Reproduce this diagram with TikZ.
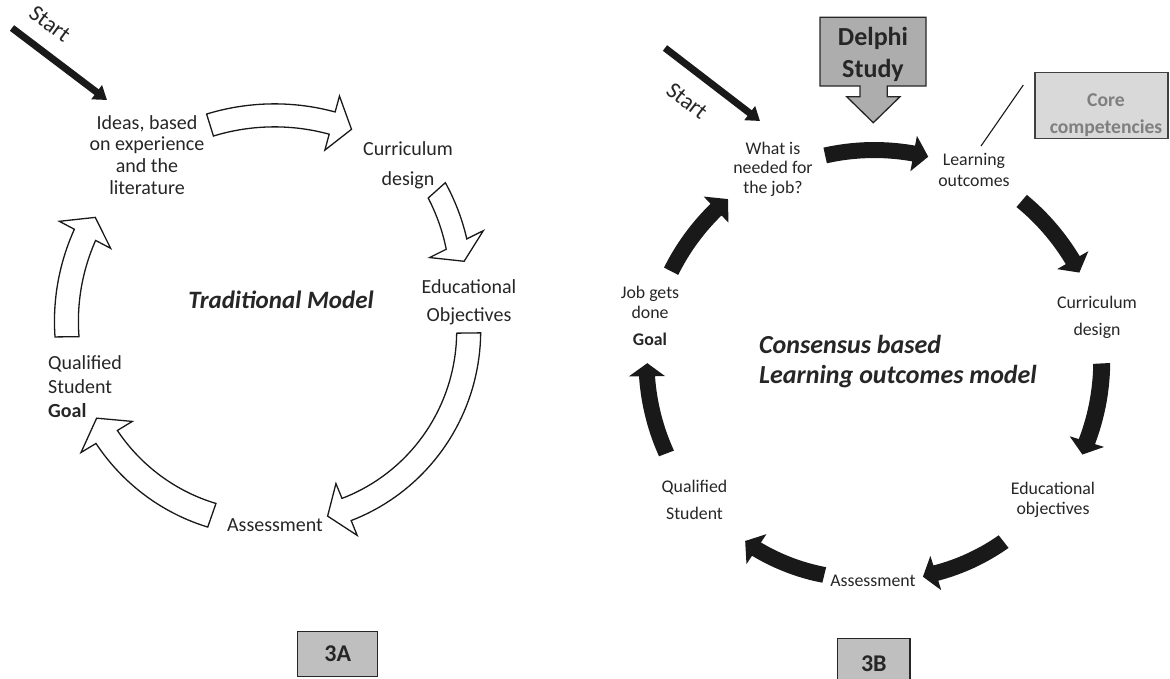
\documentclass[tikz,border=0pt]{standalone}
\usepackage{fontspec}
\setmainfont{Carlito}
\usetikzlibrary{arrows.meta}
% #1 cx, #2 cy (pixel), #3 start angle, #4 start radius, #5 head-base angle, #6 end radius, #7 tip angle, #8 half body width, #9 half head width
\newcommand{\blockarc}[9]{%
  \draw[arrshape]
    plot[domain=0:1,samples=40,variable=\t]
      ({#1+(#4+((#6)-(#4))*\t+#8)*cos(#3+((#5)-(#3))*\t)},{#2-(#4+((#6)-(#4))*\t+#8)*sin(#3+((#5)-(#3))*\t)})
    -- ({#1+(#6+#9)*cos(#5)},{#2-(#6+#9)*sin(#5)})
    -- ({#1+(#6)*cos(#7)},{#2-(#6)*sin(#7)})
    -- ({#1+(#6-#9)*cos(#5)},{#2-(#6-#9)*sin(#5)})
    -- plot[domain=0:1,samples=40,variable=\t]
      ({#1+(#6+((#4)-(#6))*\t-#8)*cos(#5+((#3)-(#5))*\t)},{#2-(#6+((#4)-(#6))*\t-#8)*sin(#5+((#3)-(#5))*\t)})
    -- cycle;}
\definecolor{txtcol}{HTML}{262626}
\definecolor{boxgray}{HTML}{BFBFBF}
\definecolor{delphigray}{HTML}{ADADAD}
\definecolor{coregray}{HTML}{D9D9D9}
\definecolor{coretext}{HTML}{7F7F7F}
\begin{document}
\begin{tikzpicture}[x=1pt,y=-1pt,
  txt/.style={text=txtcol, inner sep=0pt, align=center},
  bigtxt/.style={txt, font={\fontsize{20}{21.8}\selectfont}},
  smalltxt/.style={txt, font={\fontsize{17.8}{19.4}\selectfont}},
  starttxt/.style={txt, font={\fontsize{23}{25}\selectfont}},
  startarrow/.style={line width=7pt, draw=black!90, -{Triangle[width=17pt,length=13pt]}},
  labelbox/.style={draw=black!85, line width=1.3pt, fill=boxgray, inner sep=0pt, text=txtcol, font={\fontsize{24}{26}\selectfont\bfseries}}]
\useasboundingbox (0,0) rectangle (1170,678);

% ================= 3A: traditional model =================
\node[bigtxt] (ideas) at (147,155) {Ideas, based\\on experience\\and the\\literature};
\node[bigtxt] (curr) at (408,165) {Curriculum\\[8pt]design};
\node[bigtxt, font={\fontsize{20}{28}\selectfont}] (edu) at (469,302) {Educational\\Objectives};
\node[bigtxt] (assess) at (275,525) {Assessment};
\node[bigtxt, font={\fontsize{20}{24}\selectfont}, align=left, anchor=west] (qual) at (48,387) {Qualified\\Student\\\textbf{Goal}};
\node[txt, font={\fontsize{25}{27}\selectfont\bfseries\itshape}] (title1) at (281,300) {Traditional Model};

\coordinate (s1) at (12,28);
\coordinate (s1tip) at (107,100);
\draw[startarrow] (s1) -- (s1tip);
\node[starttxt, rotate=-36.4] (start1) at (50,24) {Start};

\begin{scope}[arrshape/.style={draw=black!90, line width=1.3pt, fill=white, line join=miter}]
\blockarc{275}{335}{107.2}{219.8}{74.9}{219.5}{69.6}{11.5}{28}
\blockarc{275}{335}{41.8}{217}{26.6}{203}{21.3}{11.5}{30}
\blockarc{275}{335}{0.6}{193.7}{-67.7}{188.6}{-73.8}{12}{28}
\blockarc{275}{335}{250.7}{191}{211.2}{196.8}{205}{12.5}{30}
\blockarc{275}{335}{180.5}{208}{152.2}{214.8}{146.8}{12}{29}
\end{scope}

\node[labelbox, minimum width=80pt, minimum height=45pt] (b3a) at (337.7,654.2) {3A};

% ================= 3B: consensus model =================
\node[smalltxt] (what) at (773,169) {What is\\needed for\\the job?};
\node[smalltxt, font={\fontsize{17.8}{21}\selectfont}] (lo) at (974,170) {Learning\\outcomes};
\node[smalltxt, font={\fontsize{17.8}{27}\selectfont}] (curr2) at (1097,317) {Curriculum\\design};
\node[smalltxt] (edu2) at (1053,500) {Educational\\objectives};
\node[smalltxt] (assess2) at (873,581) {Assessment};
\node[smalltxt, font={\fontsize{17.8}{27}\selectfont}] (qual2) at (694.5,500) {Qualified\\Student};
\node[smalltxt] (job) at (650,316) {Job gets\\done\\[8pt]\textbf{Goal}};
\node[txt, align=left, anchor=west, font={\fontsize{26}{30}\selectfont\bfseries\itshape}] (title2) at (759,362) {Consensus based\\Learning outcomes model};

\coordinate (s2) at (665,48);
\coordinate (s2tip) at (760,121);
\draw[startarrow] (s2) -- (s2tip);
\node[starttxt, rotate=-37.5] (start2) at (687,101) {Start};

\begin{scope}[arrshape/.style={fill=black!90, draw=none}]
\blockarc{873}{375}{102.3}{224.7}{79.6}{225.2}{75.8}{8}{18}
\blockarc{873}{375}{49.5}{228.9}{29.9}{230.4}{26.4}{8}{18}
\blockarc{873}{375}{2.9}{229}{-17.3}{224}{-20.8}{8.5}{18}
\blockarc{873}{375}{-51.9}{211.7}{-72.4}{207.8}{-76.1}{8}{18}
\blockarc{873}{375}{-103.7}{205.8}{-123.8}{209.5}{-127.6}{8}{18}
\blockarc{873}{375}{200.8}{220.9}{180.3}{226}{177}{8}{18}
\blockarc{873}{375}{152.8}{227}{133.5}{228}{129.5}{8}{18}
\end{scope}

% Delphi study callout
\draw[draw=black!85, line width=1.3pt, fill=delphigray, line join=miter]
  (820,17.3) -- (926,17.3) -- (926,86) -- (887.3,86) -- (887.3,96.7) -- (900,96.7)
  -- (873.3,122.7) -- (846.7,96.7) -- (860,96.7) -- (860,86) -- (820,86) -- cycle;
\node[txt, font={\fontsize{26}{32}\selectfont\bfseries}] (delphi) at (873,54) {Delphi\\Study};

% Core competencies
\node[draw=black!75, line width=1.3pt, fill=coregray, minimum width=133pt, minimum height=65.6pt, inner sep=0pt] (corebox) at (1101.5,105.5) {};
\node[txt, text=coretext, font={\fontsize{19.6}{26.6}\selectfont\bfseries}] (core) at (1106,115) {Core\\competencies};
\coordinate (c1) at (1023.3,85);
\coordinate (c2) at (981,146);
\draw[line width=1.1pt, black!90] (c1) -- (c2);

\node[labelbox, minimum width=72.3pt, minimum height=50pt] (b3b) at (873.8,663.3) {3B};
\end{tikzpicture}
\end{document}
